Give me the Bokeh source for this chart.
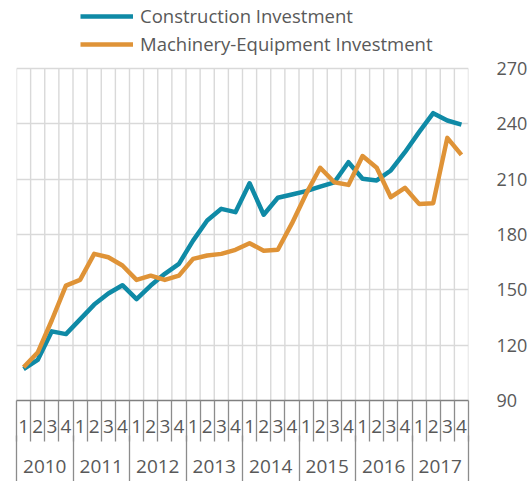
import numpy as np
from bokeh.plotting import figure
from bokeh.models import (Range1d, LinearAxis, FixedTicker, Legend, LegendItem)
from bokeh.embed import file_html
from bokeh.resources import INLINE

years = ["2010", "2011", "2012", "2013", "2014", "2015", "2016", "2017"]
quarters = ["1", "2", "3", "4"]
construction = [107, 112, 127.5, 126, 134, 142, 148, 152.5,
                145, 152.3, 158.7, 164.1, 176.7, 187.6, 193.9, 192.1,
                207.8, 190.7, 199.9, 201.7, 203.5, 206, 208.3, 219.2,
                210.2, 209.3, 214.7, 224.6, 235.5, 245.8, 241.8, 239.6]
machinery = [108, 116, 133.5, 152.3, 155.4, 169.5, 167.7, 163.2,
             155.4, 157.7, 155.4, 157.7, 166.8, 168.6, 169.5, 171.7,
             175.3, 171.2, 171.7, 186, 202, 216.2, 208.3, 206.9,
             222.5, 216.2, 200.2, 205.3, 196.6, 197, 232.4, 223.2]
y_ticks = [90, 120, 150, 180, 210, 240, 270]

FONT = "Open Sans"
TXT = "#595959"
TEAL = "#0f8aa6"
ORANGE = "#df9337"
GRID = "#d9d9d9"

n = len(construction)
nq = len(quarters)
x = np.arange(n) + 0.5
bounds = list(range(n + 1))
year_bounds = list(range(0, n + 1, nq))
year_centers = [i * nq + nq / 2 for i in range(len(years))]

# plot area: value axis occupies 332 px, with 68 px of headroom above for the legend
PLOT_H, HEAD = 332, 68
y_lo, y_hi = y_ticks[0], y_ticks[-1]
y_top = y_hi + (y_hi - y_lo) * HEAD / PLOT_H

p = figure(width=530, height=481, output_backend="svg", toolbar_location=None,
           x_range=Range1d(0, n), y_range=Range1d(y_lo, y_top),
           x_axis_type=None, y_axis_location="right",
           min_border_left=16, min_border_top=0, min_border_right=62, min_border_bottom=81)
p.outline_line_color = None
p.background_fill_color = "white"
p.xgrid.visible = False

# horizontal grid
p.ygrid.ticker = FixedTicker(ticks=y_ticks)
p.ygrid.grid_line_color = GRID
p.ygrid.grid_line_width = 1.4

# vertical category separators inside the value area
p.segment(x0=bounds, y0=[y_lo] * len(bounds), x1=bounds, y1=[y_hi] * len(bounds),
          line_color=GRID, line_width=1.4)

# right axis
ya = p.yaxis[0]
ya.ticker = FixedTicker(ticks=y_ticks)
ya.axis_line_color = None
ya.major_tick_line_color = None
ya.minor_tick_line_color = None
ya.major_label_standoff = 22
ya.major_label_text_font = FONT
ya.major_label_text_font_size = "18px"
ya.major_label_text_color = TXT

# quarter axis (separators drawn as minor ticks)
qa = LinearAxis(ticker=FixedTicker(ticks=list(x), minor_ticks=bounds),
                major_label_overrides={float(xx): quarters[i % nq] for i, xx in enumerate(x)})
qa.axis_line_color = "#808080"
qa.axis_line_width = 1.3
qa.major_tick_line_color = None
qa.major_tick_out = 0
qa.major_tick_in = 0
qa.minor_tick_line_color = "#8c8c8c"
qa.minor_tick_line_width = 1.3
qa.minor_tick_out = 41
qa.minor_tick_in = 0
qa.major_label_standoff = -22
qa.major_label_text_font = FONT
qa.major_label_text_font_size = "19px"
qa.major_label_text_color = TXT
p.add_layout(qa, "below")

# year axis
ya2 = LinearAxis(ticker=FixedTicker(ticks=year_centers, minor_ticks=year_bounds),
                 major_label_overrides={float(c): years[i] for i, c in enumerate(year_centers)})
ya2.axis_line_color = None
ya2.major_tick_line_color = None
ya2.major_tick_out = 0
ya2.major_tick_in = 0
ya2.minor_tick_line_color = "#8c8c8c"
ya2.minor_tick_line_width = 1.3
ya2.minor_tick_out = 46
ya2.minor_tick_in = 0
ya2.major_label_standoff = -22
ya2.major_label_text_font = FONT
ya2.major_label_text_font_size = "19px"
ya2.major_label_text_color = TXT
p.add_layout(ya2, "below")

r1 = p.line(x, construction, line_color=TEAL, line_width=4.5, line_join="round")
r2 = p.line(x, machinery, line_color=ORANGE, line_width=4.5, line_join="round")

legend = Legend(items=[LegendItem(label="Construction Investment", renderers=[r1]),
                       LegendItem(label="Machinery-Equipment Investment", renderers=[r2])],
                location=(64, 344), orientation="vertical",
                border_line_color=None, background_fill_alpha=0,
                padding=0, margin=0, spacing=3,
                glyph_width=53, glyph_height=14, label_height=14, label_standoff=7,
                label_text_font=FONT, label_text_font_size="18.5px", label_text_color=TXT)
p.add_layout(legend, "center")

open("out.html", "w").write(file_html(p, INLINE))
